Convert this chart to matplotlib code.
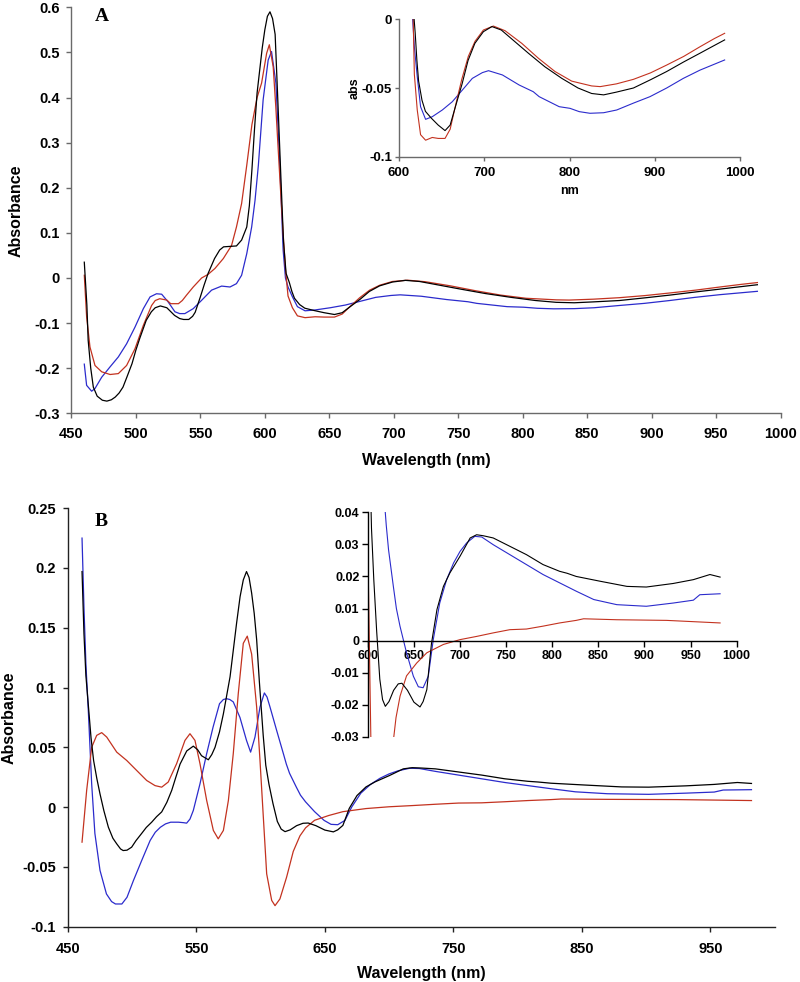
import matplotlib
matplotlib.use('Agg')
import matplotlib.pyplot as plt
from matplotlib.ticker import FuncFormatter, MultipleLocator

plt.rcParams['font.family'] = ['Liberation Sans', 'DejaVu Sans']
plt.rcParams['font.weight'] = 'bold'
plt.rcParams['axes.unicode_minus'] = False

BLACK = '#000000'
RED = '#c3321f'
BLUE = '#2b2bcc'

# ---- panel A data (nm, absorbance) ----
a_black_nm = [460, 462, 463, 465, 467, 470, 474, 477.5, 481, 484, 487, 490, 493, 497, 500, 503,
              508, 512, 515, 519, 524, 530, 534, 537, 541, 544, 546, 550, 553, 556, 561, 565,
              568, 573, 578, 582, 586, 588, 590, 592, 594, 596, 598, 600, 602, 604, 606, 608,
              610, 612.5, 614.5, 616.5, 619, 621, 623, 627, 631, 638, 646, 654, 660, 666, 674,
              681, 689, 699, 709, 720, 736, 752, 771, 791, 810, 826, 840, 855, 875, 895, 914,
              934, 953, 970, 982]
a_black = [0.035, -0.06, -0.138, -0.2, -0.242, -0.262, -0.271, -0.273, -0.27, -0.264, -0.255,
           -0.242, -0.22, -0.19, -0.16, -0.134, -0.094, -0.075, -0.066, -0.062, -0.066, -0.083,
           -0.09, -0.092, -0.092, -0.085, -0.076, -0.042, -0.015, 0.01, 0.043, 0.062, 0.069,
           0.07, 0.071, 0.084, 0.113, 0.16, 0.24, 0.33, 0.41, 0.46, 0.51, 0.55, 0.58, 0.59,
           0.575, 0.54, 0.40, 0.22, 0.08, 0.01, -0.01, -0.03, -0.045, -0.059, -0.067, -0.072,
           -0.077, -0.081, -0.077, -0.064, -0.047, -0.03, -0.0175, -0.009, -0.0053, -0.0078,
           -0.0163, -0.0248, -0.0345, -0.043, -0.050, -0.054, -0.055, -0.053, -0.050, -0.044,
           -0.038, -0.031, -0.0247, -0.019, -0.015]

a_red_nm = [460, 461.8, 464.4, 468.3, 473.5, 480, 486.4, 492.8, 499.3, 505.8, 512.2, 515, 518.5,
            524, 527, 533, 536, 539.3, 544.5, 551, 556, 561.3, 567.8, 574.2, 578, 582, 586, 590,
            594, 597.5, 601.4, 603.5, 606.5, 608.5, 610.4, 612.5, 614.2, 616, 618, 621.4, 625.3,
            631.2, 639, 646, 654, 660, 666, 673.5, 681.3, 689.2, 699, 710.7, 724.4, 744, 763.6,
            783, 802.6, 826, 836, 855, 875, 895, 914, 934, 953, 970, 982]
a_red = [0.006, -0.086, -0.153, -0.194, -0.208, -0.214, -0.212, -0.194, -0.157, -0.105, -0.061,
         -0.05, -0.046, -0.049, -0.057, -0.057, -0.05, -0.038, -0.02, 0.0, 0.008, 0.021, 0.043,
         0.072, 0.113, 0.165, 0.25, 0.34, 0.40, 0.432, 0.498, 0.517, 0.468, 0.38, 0.284, 0.18,
         0.099, 0.02, -0.04, -0.066, -0.084, -0.088, -0.086, -0.0867, -0.0867, -0.080, -0.0636,
         -0.044, -0.027, -0.016, -0.0078, -0.0049, -0.0083, -0.0175, -0.0284, -0.038, -0.045,
         -0.0485, -0.049, -0.047, -0.0437, -0.039, -0.0333, -0.027, -0.020, -0.014, -0.0102]

a_blue_nm = [460, 461.8, 465.7, 468.3, 473.5, 480, 486.4, 492.8, 499.3, 505.8, 511, 516, 520, 525,
             530.3, 534, 538, 544.5, 551, 558.7, 566.5, 573, 578, 582, 586, 589.8, 592.4, 595,
             598.7, 602.6, 605.2, 608.6, 611.7, 614.2, 616, 618, 621.4, 625.3, 631.2, 639, 650.8,
             662.5, 674.3, 686, 697.8, 705, 721.3, 740.9, 757.5, 764.4, 787.9, 800.6, 811.4, 824,
             840, 855.4, 875, 894.4, 914, 933.5, 953, 982]
a_blue = [-0.191, -0.238, -0.251, -0.245, -0.22, -0.197, -0.175, -0.146, -0.109, -0.068, -0.042,
          -0.035, -0.036, -0.053, -0.075, -0.079, -0.079, -0.068, -0.0495, -0.027, -0.018, -0.02,
          -0.0126, 0.006, 0.054, 0.113, 0.172, 0.25, 0.395, 0.483, 0.502, 0.432, 0.247, 0.062,
          0.0, -0.02, -0.0417, -0.0636, -0.0728, -0.0709, -0.066, -0.060, -0.0515, -0.043,
          -0.0388, -0.0374, -0.0405, -0.0478, -0.0527, -0.0563, -0.0636, -0.0648, -0.0672,
          -0.0684, -0.068, -0.066, -0.061, -0.0563, -0.050, -0.043, -0.037, -0.0296]

# ---- panel B data ----
b_black_nm = [461, 462.5, 464, 466, 468, 470, 472.5, 475, 478, 481.5, 485, 488, 491, 493, 496,
              499.6, 503, 507.4, 511, 515.2, 519, 523, 527, 530.8, 534, 537.3, 542.5, 547.6, 551,
              554, 559.3, 562, 564.5, 568, 571, 576.2, 581.3, 584, 586.5, 589, 591, 593, 595,
              596.9, 599, 600.8, 602, 604, 606.5, 609.6, 613, 616, 619, 623, 628, 633, 637, 643,
              650, 656.6, 660, 664, 669, 675, 682, 689, 700, 711, 718, 725, 736, 754, 772, 790,
              808, 816, 826, 852, 881, 902, 931, 953, 971, 982]
b_black = [0.197, 0.145, 0.11, 0.084, 0.058, 0.039, 0.024, 0.011, -0.003, -0.0168, -0.026,
           -0.0307, -0.035, -0.0363, -0.036, -0.0335, -0.028, -0.022, -0.017, -0.0126, -0.008,
           -0.004, 0.004, 0.014, 0.025, 0.036, 0.047, 0.051, 0.048, 0.043, 0.0396, 0.044, 0.050,
           0.063, 0.078, 0.109, 0.154, 0.176, 0.19, 0.197, 0.192, 0.179, 0.162, 0.140, 0.105,
           0.078, 0.06, 0.035, 0.019, 0.003, -0.012, -0.0184, -0.0205, -0.019, -0.0155, -0.0135,
           -0.0133, -0.0155, -0.0192, -0.0207, -0.019, -0.0153, -0.001, 0.0097, 0.0169, 0.0211,
           0.0263, 0.032, 0.033, 0.0327, 0.032, 0.0294, 0.0268, 0.0237, 0.0216, 0.021, 0.020,
           0.0185, 0.0169, 0.0167, 0.0178, 0.019, 0.0206, 0.0198]

b_red_nm = [461, 464.6, 468.5, 472.4, 476.3, 480.2, 488, 495.8, 503.5, 511.3, 517.8, 523, 528.1,
            534.6, 541.1, 545, 548.9, 552.8, 558, 563.2, 567, 571, 574.9, 578.7, 582.6, 586.5,
            589.6, 593, 596.9, 599.5, 602.1, 604.7, 608.6, 611.2, 615, 620.2, 625.4, 630.6, 635,
            642, 653, 664, 682, 700, 718, 736, 754, 772, 790, 808, 826, 834, 870, 924, 982]
b_red = [-0.0293, 0.014, 0.050, 0.060, 0.0623, 0.0586, 0.046, 0.039, 0.0307, 0.0223, 0.018,
         0.0167, 0.021, 0.0363, 0.0558, 0.0614, 0.0558, 0.0363, 0.0056, -0.0195, -0.0265,
         -0.0195, 0.0056, 0.0447, 0.095, 0.137, 0.143, 0.128, 0.0837, 0.039, -0.0084, -0.0558,
         -0.078, -0.0824, -0.0768, -0.0586, -0.037, -0.024, -0.0173, -0.011, -0.007, -0.0038,
         -0.0012, 0.0003, 0.0013, 0.0024, 0.0034, 0.0036, 0.0045, 0.0055, 0.0063, 0.0068,
         0.0065, 0.0063, 0.0055]

b_blue_nm = [461, 462.5, 464, 466, 468.5, 471, 475, 480, 484, 487, 492, 496, 501, 507.4, 514, 518,
             522, 526, 530, 536, 540, 542.4, 545, 547.6, 552.8, 558, 563, 568, 571, 573.5, 576,
             578.7, 583.9, 589, 592.2, 595.6, 599.5, 602.9, 605, 607.3, 612.5, 617.7, 620, 622.5,
             627.7, 631, 634.9, 642, 649.4, 654.8, 660, 665.6, 671, 678, 685.5, 693, 700, 707,
             716, 723.5, 736, 754, 772, 790, 808, 826, 845, 870, 902, 931, 953, 960, 982]
b_blue = [0.225, 0.167, 0.12, 0.078, 0.0195, -0.022, -0.053, -0.0726, -0.079, -0.081, -0.081,
          -0.0754, -0.0614, -0.0447, -0.0279, -0.021, -0.0168, -0.014, -0.0126, -0.0126, -0.013,
          -0.0134, -0.01, -0.0028, 0.0195, 0.0447, 0.067, 0.0865, 0.09, 0.0907, 0.090, 0.088,
          0.075, 0.0558, 0.046, 0.0586, 0.0837, 0.0955, 0.092, 0.0837, 0.064, 0.0447, 0.036,
          0.0283, 0.0169, 0.0100, 0.0045, -0.0038, -0.0111, -0.0144, -0.0147, -0.0111, 0.0003,
          0.0117, 0.019, 0.0242, 0.0278, 0.0304, 0.0325, 0.0323, 0.0299, 0.0268, 0.0237, 0.0206,
          0.018, 0.0154, 0.0128, 0.0112, 0.0107, 0.0117, 0.0126, 0.0143, 0.0146]

W, H = 800, 982


def px_axes(fig, left, top, right, bottom):
    # axes rectangle given in figure pixels (y measured from the top)
    return fig.add_axes([left / W, 1 - bottom / H, (right - left) / W, (bottom - top) / H])


def fmt(v, pos):
    return '%g' % (round(v, 4) + 0.0)


def style_axes(ax, size, tick_len, pad_x, pad_y, spine='#444444'):
    for s in ['top', 'right']:
        ax.spines[s].set_visible(False)
    for s in ['left', 'bottom']:
        ax.spines[s].set_color(spine)
        ax.spines[s].set_linewidth(1.0)
    ax.tick_params(axis='both', direction='out', length=tick_len, width=1.0, color=spine,
                   labelsize=size)
    ax.tick_params(axis='x', pad=pad_x)
    ax.tick_params(axis='y', pad=pad_y)
    ax.yaxis.set_major_formatter(FuncFormatter(fmt))
    ax.patch.set_alpha(0)


def draw_lines(ax, black, red, blue, lw=0.9):
    ax.plot(blue[0], blue[1], color=BLUE, lw=lw)
    ax.plot(red[0], red[1], color=RED, lw=lw)
    ax.plot(black[0], black[1], color=BLACK, lw=lw)


fig = plt.figure(figsize=(8, 9.82), dpi=100)
fig.patch.set_facecolor('white')

# ---- panel A ----
ax1 = px_axes(fig, 71.4, 7.3, 780.6, 413.3)
draw_lines(ax1, (a_black_nm, a_black), (a_red_nm, a_red), (a_blue_nm, a_blue))
ax1.set_xlim(450, 1000)
ax1.set_ylim(-0.3, 0.6)
ax1.xaxis.set_major_locator(MultipleLocator(50))
ax1.yaxis.set_major_locator(MultipleLocator(0.1))
style_axes(ax1, 10.5, 3.5, 6.5, 5, spine='#6a6a6a')
ax1.set_xlabel('Wavelength (nm)', fontsize=11.5, fontweight='bold', labelpad=8.5)
ax1.set_ylabel('Absorbance', fontsize=11.5, fontweight='bold')
ax1.yaxis.set_label_coords(-0.067, 0.5)
fig.text(101.7 / W, 1 - 16.7 / H, 'A', family='Liberation Serif', fontweight='bold',
         fontsize=14, ha='center', va='center')

ins1 = px_axes(fig, 399, 19.3, 740, 156.7)
draw_lines(ins1, (a_black_nm, a_black), (a_red_nm, a_red), (a_blue_nm, a_blue), lw=0.8)
ins1.set_xlim(600, 1000)
ins1.set_ylim(-0.1, 0)
ins1.xaxis.set_major_locator(MultipleLocator(100))
ins1.yaxis.set_major_locator(MultipleLocator(0.05))
style_axes(ins1, 9.5, 3, 4.5, 2, spine='#6a6a6a')
ins1.set_xlabel('nm', fontsize=9, fontweight='bold', labelpad=4)
ins1.set_ylabel('abs', fontsize=9, fontweight='bold', labelpad=1)

# ---- panel B ----
ax2 = px_axes(fig, 67.9, 508.2, 774.6, 926.7)
draw_lines(ax2, (b_black_nm, b_black), (b_red_nm, b_red), (b_blue_nm, b_blue))
ax2.set_xlim(450, 1000)
ax2.set_ylim(-0.1, 0.25)
ax2.set_xticks([450, 550, 650, 750, 850, 950])
ax2.yaxis.set_major_locator(MultipleLocator(0.05))
style_axes(ax2, 10.5, 3.5, 7.5, 5, spine='#222222')
ax2.set_xlabel('Wavelength (nm)', fontsize=11.5, fontweight='bold', labelpad=7)
ax2.set_ylabel('Absorbance', fontsize=11.5, fontweight='bold')
ax2.yaxis.set_label_coords(-0.073, 0.5)
fig.text(101 / W, 1 - 521.7 / H, 'B', family='Liberation Serif', fontweight='bold',
         fontsize=14, ha='center', va='center')

ins2 = px_axes(fig, 367.8, 512.3, 736.7, 736.8)
draw_lines(ins2, (b_black_nm, b_black), (b_red_nm, b_red), (b_blue_nm, b_blue), lw=0.8)
ins2.set_xlim(600, 1000)
ins2.set_ylim(-0.03, 0.04)
ins2.xaxis.set_major_locator(MultipleLocator(50))
ins2.yaxis.set_major_locator(MultipleLocator(0.01))
style_axes(ins2, 9, 4, 3, 2, spine=BLACK)
ins2.spines['bottom'].set_position(('data', 0))

fig.savefig('out.png', dpi=100, facecolor='white')
